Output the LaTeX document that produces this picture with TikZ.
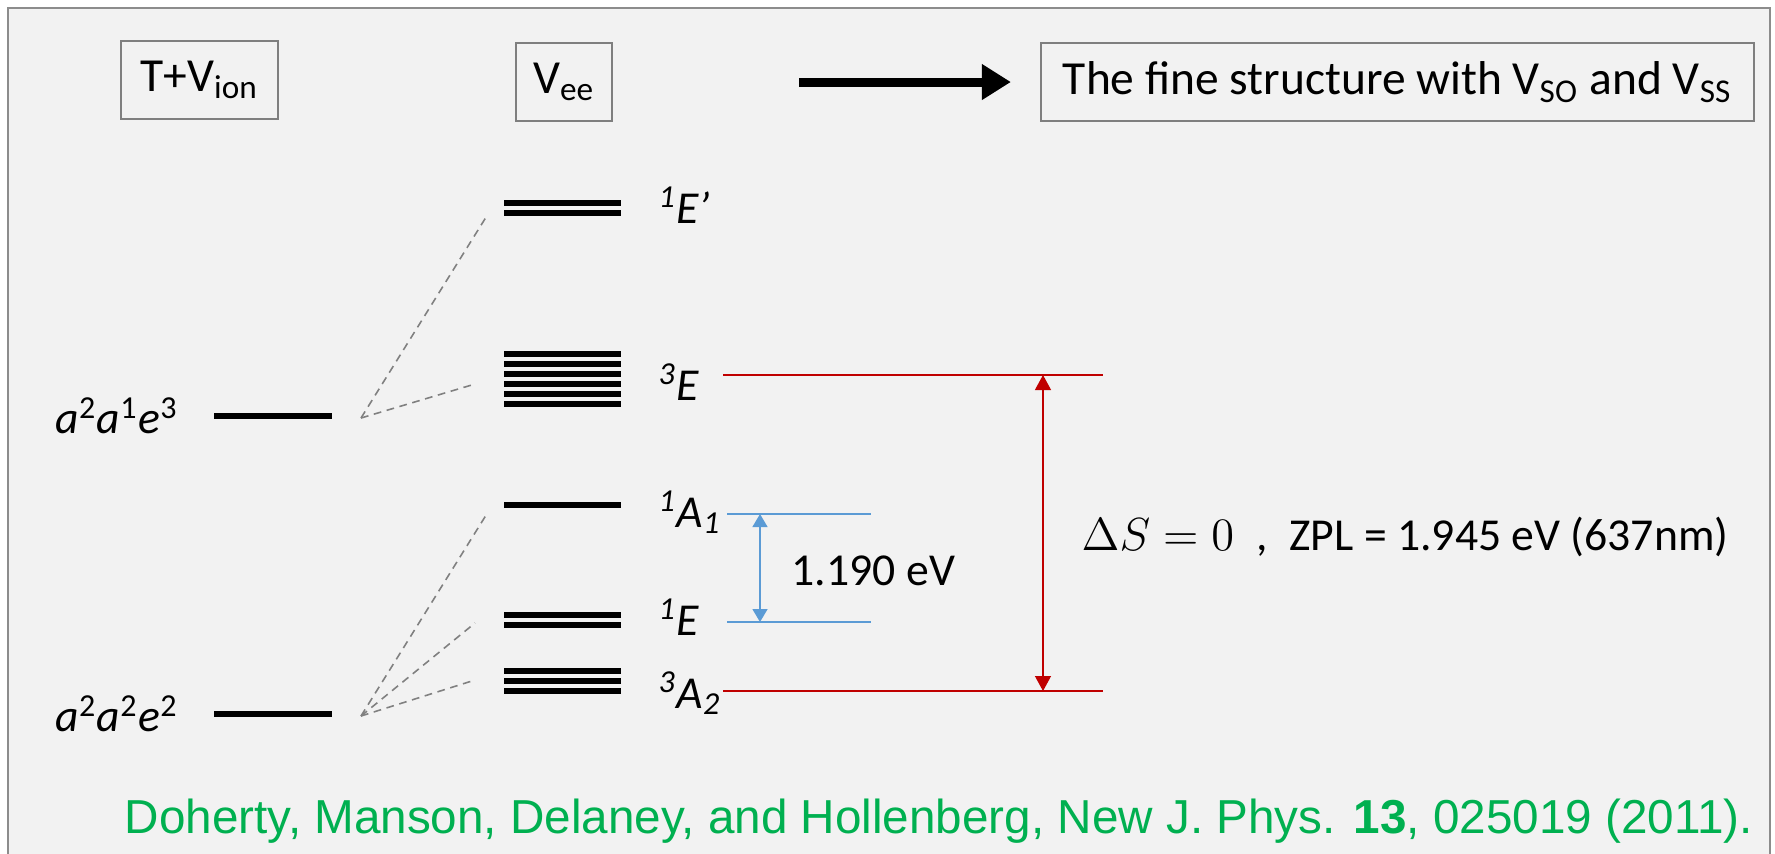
\documentclass[tikz,border=0pt]{standalone}
\usepackage{fontspec}
\setmainfont{Carlito}
\newfontfamily\citefont{Liberation Sans}
\usetikzlibrary{arrows.meta,positioning}
\definecolor{bggray}{HTML}{F2F2F2}
\definecolor{framegray}{HTML}{8C8C8C}
\definecolor{boxgray}{HTML}{7F7F7F}
\definecolor{dashgray}{HTML}{808080}
\definecolor{zplred}{HTML}{C00000}
\definecolor{gapblue}{HTML}{5B9BD5}
\definecolor{citegreen}{HTML}{00B050}

\begin{document}
\begin{tikzpicture}[x=0.01cm, y=-0.01cm, node distance=0.35cm]
    % Style definitions for boxes, levels and connectors
    \tikzset{box/.style={rectangle, draw=boxgray, line width=0.5pt, minimum height=0.78cm,
             text centered, inner sep=0pt, font=\fontsize{13.5}{16}\selectfont},
             lvl/.style={line width=1.85pt, black},
             lbl/.style={font=\fontsize{13}{15}\selectfont\itshape, inner sep=0pt},
             split/.style={dashgray, line width=0.45pt, dash pattern=on 2.2pt off 1.6pt}}
    \tikzstyle{zpl} = [zplred, line width=0.55pt]
    \tikzstyle{gap} = [gapblue, line width=0.4pt]
    \tikzstyle{bigarrow} = [line width=0.09cm, -{Triangle[length=0.29cm, width=0.34cm]}]

    % Frame and background
    \useasboundingbox (0,0) rectangle (1775,853);
    \clip (0,0) rectangle (1775,853);
    \draw [framegray, fill=bggray, line width=0.7pt] (8,8) rectangle (1770,900);

    % Header boxes
    \node (tv) [box, minimum width=1.57cm] at (199.5,80) {T+V\textsubscript{ion}};
    \node (vee) [box, minimum width=0.96cm] at (564,82) {V\textsubscript{ee}};
    \node (fine) [box, minimum width=7.13cm] at (1397.5,82) {The fine structure with V\textsubscript{SO} and V\textsubscript{SS}};
    \coordinate (arrtail) at (799,82);
    \draw [bigarrow] (arrtail) -- ([xshift=-0.29cm]fine.west);

    % Configurations (T+V_ion)
    \draw [lvl] (214,416) coordinate (c1w) -- (332,416) coordinate (c1e);
    \draw [lvl] (214,714) coordinate (c2w) -- (332,714) coordinate (c2e);
    \node (c1) [lbl, left=of c1w] {a\textsuperscript{\upshape 2}a\textsuperscript{\upshape 1}e\textsuperscript{\upshape 3}};
    \node (c2) [lbl, left=of c2w] {a\textsuperscript{\upshape 2}a\textsuperscript{\upshape 2}e\textsuperscript{\upshape 2}};

    % Multiplets (V_ee)
    \foreach \y in {203,213} \draw [lvl] (504,\y) -- (621,\y);
    \foreach \y in {354,364,...,404} \draw [lvl] (504,\y) -- (621,\y);
    \draw [lvl] (504,505) -- (621,505);
    \foreach \y in {615,625} \draw [lvl] (504,\y) -- (621,\y);
    \foreach \y in {671,681,691} \draw [lvl] (504,\y) -- (621,\y);

    \node (tEp) [lbl, anchor=base west] at (658,223) {\textsuperscript{1}E’};
    \node (tE3) [lbl, anchor=base west] at (658,400) {\textsuperscript{3}E};
    \node (tA1) [lbl, anchor=base west] at (658,527) {\textsuperscript{1}A\textsubscript{1}};
    \node (tE1) [lbl, anchor=base west] at (658,635) {\textsuperscript{1}E};
    \node (tA2) [lbl, anchor=base west] at (658,708) {\textsuperscript{3}A\textsubscript{2}};

    % Splitting lines
    \coordinate (s1) at (361,418);
    \coordinate (s2) at (361,716);
    \coordinate (eEp) at (488,214);
    \coordinate (eE3) at (475,384);
    \coordinate (eA1) at (488,512);
    \coordinate (eE1) at (475,623);
    \coordinate (eA2) at (475,680);
    \draw [split] (s1) -- (eEp);
    \draw [split] (s1) -- (eE3);
    \draw [split] (s2) -- (eA1);
    \draw [split] (s2) -- (eE1);
    \draw [split] (s2) -- (eA2);

    % Zero phonon line 3E - 3A2
    \draw [zpl] (723,375) coordinate (r1w) -- (1103,375) coordinate (r1e);
    \draw [zpl] (723,691) coordinate (r2w) -- (1103,691) coordinate (r2e);
    \coordinate (r1a) at (1043,375);
    \coordinate (r2a) at (1043,691);
    \draw [zplred, line width=0.35pt, {Triangle[length=0.15cm, width=0.16cm]}-{Triangle[length=0.15cm, width=0.16cm]}] (r1a) -- (r2a);
    \node (zpl) [anchor=base west, font=\fontsize{13}{15}\selectfont, inner sep=0pt] at (1081,550)
        {{\fontsize{12}{14}\selectfont\scalebox{1.1}{$\Delta S = 0$}}\hspace{0.22cm},\hspace{0.22cm}ZPL = 1.945 eV (637nm)};

    % Singlet gap 1A1 - 1E
    \draw [gap] (727,514) coordinate (b1w) -- (871,514) coordinate (b1e);
    \draw [gap] (727,622) coordinate (b2w) -- (871,622) coordinate (b2e);
    \coordinate (b1a) at (760,514);
    \coordinate (b2a) at (760,622);
    \draw [gap, {Triangle[length=0.13cm, width=0.15cm]}-{Triangle[length=0.13cm, width=0.15cm]}] (b1a) -- (b2a);
    \node (gapval) [anchor=west, font=\fontsize{13}{15}\selectfont, inner sep=0pt] at (791,571) {1.190 eV};

    % Reference
    \node (cite) [anchor=base west, inner sep=0pt, text=citegreen, font=\citefont\fontsize{13.55}{16}\selectfont] at (124,833)
        {Doherty, Manson, Delaney, and Hollenberg, New J. Phys. \textbf{13}, 025019 (2011).};
\end{tikzpicture}
\end{document}
